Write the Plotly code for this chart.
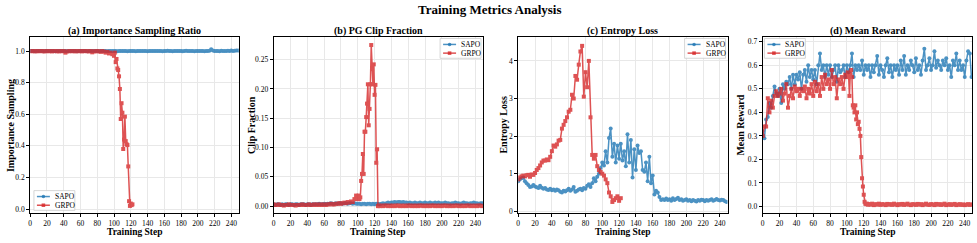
import plotly.graph_objects as go

# ---------------- data ----------------
steps_sapo = list(range(0, 250, 2))
steps_grpo_a = list(range(0, 100, 2)) + list(range(100, 123))
steps_grpo_b = list(range(0, 100, 2)) + list(range(100, 126)) + list(range(126, 250, 2))
steps_grpo_c = list(range(0, 124, 2))
steps_grpo_d = list(range(0, 100, 2)) + list(range(100, 126)) + list(range(126, 250, 2))

sapo_is = [
    1.0, 1.0, 1.001, 0.999, 1.0, 1.0, 1.001, 1.0, 0.999, 1.0, 1.0, 1.0, 1.001, 1.0, 1.0, 0.999, 1.0, 1.0, 1.001, 1.0, 1.0, 1.0, 0.999, 1.0, 1.0,
    1.0, 1.001, 1.0, 0.999, 1.0, 1.0, 1.0, 1.001, 1.0, 0.999, 1.0, 1.0, 1.001, 1.0, 1.0, 1.0, 0.999, 1.0, 1.001, 1.0, 1.0, 0.999, 1.0, 1.0, 1.0,
    1.0, 1.0, 0.999, 1.0, 1.001, 1.0, 1.0, 1.0, 0.999, 1.0, 1.001, 1.0, 1.0, 0.999, 1.0, 1.0, 1.001, 1.0, 1.0, 1.0, 0.999, 1.0, 1.0, 1.001, 1.0,
    1.0, 1.0, 1.001, 1.0, 0.999, 1.0, 1.0, 1.002, 1.0, 1.0, 0.999, 1.0, 1.001, 1.0, 1.0, 1.0, 0.999, 1.0, 1.002, 1.0, 1.0, 1.001, 1.0, 0.999, 1.0,
    1.0, 1.001, 1.0, 1.0, 0.999, 1.001, 1.0, 1.002, 1.012, 1.003, 1.0, 1.001, 1.0, 0.999, 1.002, 1.0, 1.001, 1.0, 1.002, 1.0, 1.003, 1.001, 1.002, 1.004, 1.003,
]
grpo_is = [
    1.0, 0.999, 1.0, 0.998, 1.0, 0.999, 1.0, 1.0, 0.998, 0.999, 1.0, 0.999, 1.0, 0.998, 1.0, 1.0, 0.999, 0.998, 1.0, 0.999, 1.0, 0.99, 0.998, 0.999, 1.0,
    0.999, 1.0, 0.998, 1.0, 0.999, 1.0, 0.998, 1.0, 1.0, 0.999, 0.998, 1.0, 0.992, 0.999, 0.998, 1.0, 0.999, 0.995, 1.0, 0.996, 0.99, 0.995, 0.985, 0.99, 0.98,
    0.97, 0.99, 0.93, 0.95, 0.89, 0.88, 0.84, 0.76, 0.57, 0.67, 0.61, 0.38, 0.44, 0.585, 0.43, 0.41, 0.405, 0.27, 0.05, 0.02, 0.035, 0.025, 0.03,
]

sapo_clip = [
    0.003, 0.002, 0.003, 0.003, 0.002, 0.003, 0.002, 0.003, 0.003, 0.002, 0.003, 0.003, 0.002, 0.003, 0.003, 0.002, 0.003, 0.003, 0.003, 0.002, 0.003, 0.003, 0.002, 0.003, 0.003,
    0.003, 0.003, 0.004, 0.003, 0.003, 0.004, 0.003, 0.004, 0.004, 0.005, 0.004, 0.004, 0.005, 0.004, 0.005, 0.005, 0.004, 0.005, 0.005, 0.004, 0.005, 0.005, 0.004, 0.005, 0.004,
    0.004, 0.004, 0.003, 0.004, 0.004, 0.003, 0.004, 0.004, 0.003, 0.004, 0.003, 0.004, 0.004, 0.003, 0.004, 0.005, 0.004, 0.005, 0.006, 0.005, 0.006, 0.006, 0.007, 0.006, 0.007,
    0.007, 0.006, 0.007, 0.006, 0.006, 0.005, 0.006, 0.005, 0.005, 0.006, 0.005, 0.005, 0.006, 0.005, 0.005, 0.006, 0.005, 0.005, 0.006, 0.005, 0.005, 0.006, 0.005, 0.006, 0.005,
    0.005, 0.005, 0.006, 0.005, 0.005, 0.004, 0.005, 0.005, 0.006, 0.005, 0.005, 0.004, 0.005, 0.006, 0.005, 0.005, 0.004, 0.005, 0.005, 0.006, 0.005, 0.005, 0.004, 0.005, 0.005,
]
grpo_clip = [
    0.003, 0.002, 0.002, 0.003, 0.002, 0.002, 0.001, 0.002, 0.002, 0.003, 0.002, 0.002, 0.002, 0.001, 0.002, 0.002, 0.002, 0.003, 0.002, 0.002, 0.002, 0.003, 0.002, 0.002, 0.003,
    0.002, 0.003, 0.002, 0.003, 0.002, 0.003, 0.002, 0.003, 0.003, 0.004, 0.003, 0.003, 0.004, 0.004, 0.005, 0.004, 0.005, 0.006, 0.005, 0.007, 0.006, 0.008, 0.007, 0.012, 0.018,
    0.012, 0.018, 0.012, 0.015, 0.043, 0.055, 0.089, 0.055, 0.127, 0.127, 0.152, 0.175, 0.208, 0.138, 0.166, 0.208, 0.275, 0.234, 0.208, 0.242, 0.19, 0.207, 0.074, 0.097, 0.0, 0.001,
    0.0, 0.001, 0.0, 0.001, 0.001, 0.0, 0.001, 0.0, 0.001, 0.0,
    0.001, 0.001, 0.0, 0.001, 0.0, 0.001, 0.0, 0.001, 0.001, 0.0,
    0.001, 0.0, 0.001, 0.0, 0.001, 0.001, 0.0, 0.001, 0.0, 0.001,
    0.0, 0.001, 0.001, 0.0, 0.001, 0.0, 0.001, 0.0, 0.001, 0.001,
    0.0, 0.001, 0.0, 0.001, 0.0, 0.001, 0.001, 0.0, 0.001, 0.0,
    0.001, 0.0, 0.001, 0.001, 0.0, 0.001, 0.0, 0.001, 0.0, 0.001,
    0.001, 0.0,
]

sapo_ent = [
    0.8, 0.85, 0.88, 0.9, 0.8, 0.75, 0.7, 0.65, 0.66, 0.7, 0.66, 0.64, 0.62, 0.68, 0.63, 0.6, 0.62, 0.58, 0.57, 0.6, 0.56, 0.58, 0.55, 0.58, 0.56,
    0.52, 0.5, 0.55, 0.53, 0.56, 0.6, 0.55, 0.58, 0.65, 0.52, 0.55, 0.58, 0.6, 0.56, 0.62, 0.6, 0.68, 0.72, 0.65, 0.75, 0.88, 0.8, 0.92, 1.0, 1.15,
    1.3, 1.22, 1.6, 1.3, 1.95, 2.2, 1.45, 1.8, 1.3, 1.75, 1.4, 1.8, 1.35, 1.6, 1.2, 2.05, 1.3, 1.9, 0.9, 1.65, 1.1, 1.75, 1.55, 1.6, 1.1,
    1.05, 1.3, 0.8, 1.45, 0.75, 0.95, 0.45, 0.55, 0.5, 0.38, 0.3, 0.32, 0.3, 0.34, 0.3, 0.32, 0.28, 0.35, 0.3, 0.33, 0.36, 0.3, 0.32, 0.28, 0.3,
    0.32, 0.28, 0.3, 0.27, 0.3, 0.28, 0.26, 0.3, 0.28, 0.31, 0.3, 0.27, 0.3, 0.28, 0.3, 0.32, 0.28, 0.3, 0.33, 0.3, 0.29, 0.31, 0.3, 0.27, 0.25,
]
grpo_ent = [
    0.85, 0.9, 0.93, 0.95, 0.93, 0.96, 0.97, 0.92, 0.98, 0.97, 1.02, 1.1, 1.15, 1.22, 1.3, 1.35, 1.35, 1.38, 1.36, 1.45, 1.6, 1.75, 1.72, 1.78, 1.88,
    1.9, 2.2, 2.3, 2.4, 2.5, 2.65, 2.7, 3.1, 3.0, 3.6, 3.5, 3.9, 4.25, 4.4, 3.05, 3.7, 3.3, 4.0, 2.5, 1.5, 1.4, 1.5, 1.2, 1.1, 1.05,
    1.0, 0.95, 0.85, 0.75, 0.5, 0.4, 0.25, 0.3, 0.35, 0.4, 0.28, 0.35,
]

sapo_rew = [
    0.32, 0.29, 0.37, 0.38, 0.44, 0.42, 0.47, 0.51, 0.48, 0.47, 0.5, 0.44, 0.52, 0.5, 0.53, 0.52, 0.55, 0.5, 0.56, 0.52, 0.56, 0.54, 0.57, 0.5, 0.56,
    0.58, 0.53, 0.6, 0.55, 0.58, 0.54, 0.58, 0.52, 0.6, 0.65, 0.58, 0.6, 0.55, 0.6, 0.56, 0.6, 0.55, 0.58, 0.6, 0.53, 0.6, 0.57, 0.58, 0.6, 0.55,
    0.6, 0.57, 0.6, 0.65, 0.55, 0.6, 0.58, 0.6, 0.58, 0.62, 0.56, 0.6, 0.58, 0.6, 0.55, 0.6, 0.57, 0.6, 0.64, 0.56, 0.6, 0.58, 0.55, 0.6, 0.63,
    0.57, 0.6, 0.55, 0.6, 0.58, 0.6, 0.56, 0.62, 0.58, 0.64, 0.56, 0.6, 0.58, 0.62, 0.6, 0.57, 0.63, 0.58, 0.6, 0.56, 0.62, 0.67, 0.58, 0.6, 0.63,
    0.58, 0.6, 0.66, 0.59, 0.62, 0.6, 0.58, 0.62, 0.6, 0.63, 0.58, 0.6, 0.55, 0.62, 0.6, 0.65, 0.58, 0.62, 0.58, 0.6, 0.55, 0.62, 0.66, 0.65, 0.55,
]
grpo_rew = [
    0.3, 0.34, 0.34, 0.46, 0.4, 0.45, 0.42, 0.47, 0.49, 0.47, 0.48, 0.5, 0.45, 0.48, 0.52, 0.42, 0.47, 0.5, 0.46, 0.51, 0.49, 0.5, 0.47, 0.5, 0.49,
    0.51, 0.46, 0.5, 0.48, 0.52, 0.47, 0.53, 0.49, 0.52, 0.47, 0.55, 0.5, 0.56, 0.52, 0.54, 0.5, 0.58, 0.52, 0.55, 0.46, 0.54, 0.52, 0.55, 0.5, 0.56,
    0.55, 0.57, 0.56, 0.47, 0.56, 0.58, 0.55, 0.43, 0.42, 0.4, 0.43, 0.37, 0.4, 0.35, 0.36, 0.33, 0.3, 0.21, 0.12, 0.085, 0.05, 0.02, 0.012, 0.01, 0.012, 0.008,
    0.01, 0.008, 0.012, 0.006, 0.01, 0.008, 0.012, 0.007, 0.01, 0.009,
    0.006, 0.011, 0.008, 0.01, 0.007, 0.012, 0.009, 0.006, 0.01, 0.008,
    0.011, 0.007, 0.009, 0.012, 0.008, 0.006, 0.01, 0.009, 0.007, 0.011,
    0.008, 0.01, 0.006, 0.009, 0.012, 0.008, 0.007, 0.01, 0.009, 0.006,
    0.011, 0.008, 0.01, 0.007, 0.009, 0.012, 0.006, 0.008, 0.01, 0.007,
    0.009, 0.011, 0.006, 0.008, 0.01, 0.007, 0.009, 0.006, 0.008, 0.01,
    0.007, 0.009,
]

assert len(sapo_is) == len(steps_sapo), len(sapo_is)
assert len(grpo_is) == len(steps_grpo_a), len(grpo_is)
assert len(sapo_clip) == len(steps_sapo), len(sapo_clip)
assert len(grpo_clip) == len(steps_grpo_b), len(grpo_clip)
assert len(sapo_ent) == len(steps_sapo), len(sapo_ent)
assert len(grpo_ent) == len(steps_grpo_c), len(grpo_ent)
assert len(sapo_rew) == len(steps_sapo), len(sapo_rew)
assert len(grpo_rew) == len(steps_grpo_d), len(grpo_rew)

series_names = ["SAPO", "GRPO"]
titles = ["(a) Importance Sampling Ratio", "(b) PG Clip Fraction", "(c) Entropy Loss", "(d) Mean Reward"]
ylabels = ["Importance Sampling", "Clip Fraction", "Entropy Loss", "Mean Reward"]
xlabel = "Training Step"
main_title = "Training Metrics Analysis"
x_ticks = list(range(0, 241, 20))
y_ticks = [
    [0.0, 0.2, 0.4, 0.6, 0.8, 1.0],
    [0.0, 0.05, 0.1, 0.15, 0.2, 0.25],
    [0, 1, 2, 3, 4],
    [0.0, 0.1, 0.2, 0.3, 0.4, 0.5, 0.6, 0.7],
]
y_fmt = [".1f", ".2f", "d", ".1f"]
y_ranges = [[-0.027, 1.09], [-0.0123, 0.289], [-0.053, 4.64], [-0.029, 0.721]]

# ---------------- figure ----------------
W, H = 977, 243
FONT = "Liberation Serif"
BLUE = "#1f77b4"
RED = "#d62728"
BLUE_A = "rgba(31,119,180,0.8)"
RED_A = "rgba(214,39,40,0.8)"
x_px = [(28.3, 237.3), (272.3, 482.0), (517.3, 727.0), (762.3, 972.3)]
top_px, bot_px = 37.3, 216.0
ydom = [1 - bot_px / H, 1 - top_px / H]

series = [
    (steps_sapo, sapo_is, steps_grpo_a, grpo_is),
    (steps_sapo, sapo_clip, steps_grpo_b, grpo_clip),
    (steps_sapo, sapo_ent, steps_grpo_c, grpo_ent),
    (steps_sapo, sapo_rew, steps_grpo_d, grpo_rew),
]

def px(xp):
    return xp / W

def py(yp):
    return 1 - yp / H

fig = go.Figure()
annotations = []
shapes = []
layout = dict(
    width=W, height=H,
    margin=dict(l=0, r=0, t=0, b=0),
    paper_bgcolor="white", plot_bgcolor="white",
    font=dict(family=FONT, size=8, color="black"),
    showlegend=False,
)

# legend boxes (left, top) in pixels
legend_box = [(32, 193), (439, 39), (684, 39), (764, 39)]

for i in range(4):
    k = "" if i == 0 else str(i + 1)
    xs, ys, xg, yg = series[i]
    fig.add_trace(go.Scatter(
        x=xs, y=ys, mode="lines+markers", name=series_names[0],
        line=dict(color=BLUE, width=1.5), marker=dict(symbol="circle", size=4, color=BLUE),
        opacity=0.8, xaxis="x" + k, yaxis="y" + k,
    ))
    fig.add_trace(go.Scatter(
        x=xg, y=yg, mode="lines+markers", name=series_names[1],
        line=dict(color=RED, width=1.5), marker=dict(symbol="square", size=4, color=RED),
        opacity=0.8, xaxis="x" + k, yaxis="y" + k,
    ))
    x0, x1 = x_px[i]
    axis_common = dict(
        showline=True, linecolor="black", linewidth=1, mirror=True,
        ticks="outside", ticklen=3, tickwidth=0.8, tickcolor="black",
        showgrid=True, gridcolor="#e8e8e8", gridwidth=0.8, zeroline=False,
        tickfont=dict(family=FONT, size=7.5, color="black"),
    )
    layout["xaxis" + k] = dict(
        domain=[x0 / W, x1 / W], anchor="y" + k, range=[0, 249],
        tickvals=x_ticks, **axis_common,
    )
    layout["yaxis" + k] = dict(
        domain=ydom, anchor="x" + k, range=y_ranges[i],
        tickvals=y_ticks[i], tickformat=y_fmt[i], **axis_common,
    )
    cx = (x0 + x1) / 2 / W
    annotations.append(dict(
        text="<b>" + titles[i] + "</b>", x=cx, y=py(31), xref="paper", yref="paper",
        xanchor="center", yanchor="middle", showarrow=False,
        font=dict(family=FONT, size=10, color="black"),
    ))
    annotations.append(dict(
        text="<b>" + xlabel + "</b>", x=cx, y=py(234.5), xref="paper", yref="paper",
        xanchor="center", yanchor="middle", showarrow=False,
        font=dict(family=FONT, size=9.5, color="black"),
    ))
    ylab_x = [8, 249.5, 502.5, 740][i]
    annotations.append(dict(
        text="<b>" + ylabels[i] + "</b>", x=px(ylab_x), y=py((top_px + bot_px) / 2),
        xref="paper", yref="paper", xanchor="center", yanchor="middle", showarrow=False,
        textangle=-90, font=dict(family=FONT, size=10, color="black"),
    ))

    # legend (drawn as decoration in paper coordinates)
    L, T = legend_box[i]
    shapes.append(dict(
        type="rect", xref="paper", yref="paper",
        x0=px(L), x1=px(L + 41), y0=py(T + 20), y1=py(T),
        fillcolor="rgba(255,255,255,0.85)", line=dict(color="#cccccc", width=0.8), layer="above",
    ))
    for j, (col, sym) in enumerate([(BLUE_A, "circle"), (RED_A, "square")]):
        ry = T + 6 + j * 8.8
        shapes.append(dict(
            type="line", xref="paper", yref="paper",
            x0=px(L + 3), x1=px(L + 16), y0=py(ry), y1=py(ry),
            line=dict(color=col, width=1.5), layer="above",
        ))
        shapes.append(dict(
            type=sym if sym == "circle" else "rect", xref="paper", yref="paper",
            x0=px(L + 7.7), x1=px(L + 11.3), y0=py(ry + 1.8), y1=py(ry - 1.8),
            fillcolor=col, line=dict(color=col, width=0), layer="above",
        ))
        annotations.append(dict(
            text=series_names[j], x=px(L + 19), y=py(ry), xref="paper", yref="paper",
            xanchor="left", yanchor="middle", showarrow=False,
            font=dict(family=FONT, size=7.5, color="black"),
        ))

annotations.append(dict(
    text="<b>" + main_title + "</b>", x=0.5, y=py(10), xref="paper", yref="paper",
    xanchor="center", yanchor="middle", showarrow=False,
    font=dict(family=FONT, size=13, color="black"),
))

layout["annotations"] = annotations
layout["shapes"] = shapes
fig.update_layout(**layout)
fig.write_html("out.html")
